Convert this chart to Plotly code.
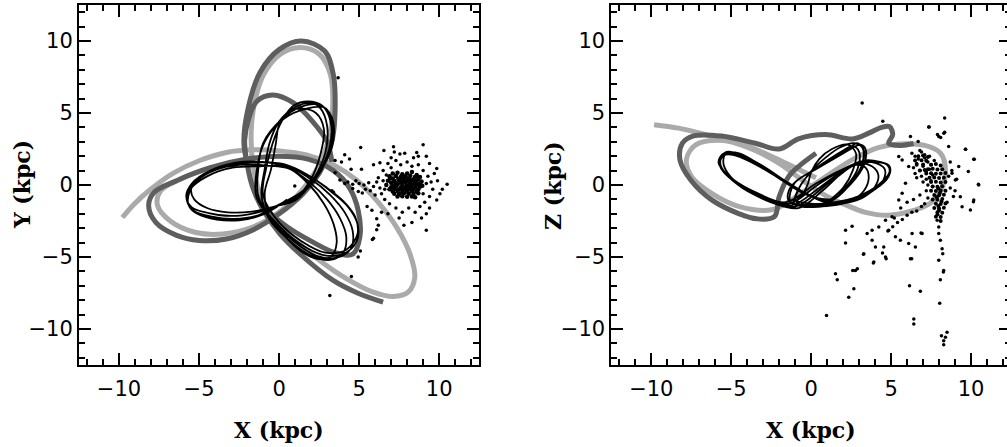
import plotly.graph_objects as go

# ---------------- data (kpc) ----------------
# light-gray orbit, X-Y projection
LG_XY_X = [-9.79,-9.12,-8.08,-6.63,-4.96,-3.29,-1.63,0.04,1.71,3.38,4.83,6.08,7.33,8.17,8.48,8.06,7.13,5.88,4.2,2.6,1.0,-0.3,-1.2,-1.6,-1.75,-1.6,-1.0,0.1,1.3,2.5,3.2,3.35,3.1,2.5,1.4,0.0,-1.6,-3.5,-5.2,-6.8,-7.6,-7.4,-6.2,-4.5]
LG_XY_Y = [-2.26,-1.40,-0.35,0.81,1.70,2.26,2.44,2.37,2.09,1.40,0.35,-1.05,-2.91,-4.77,-6.40,-7.44,-7.74,-7.44,-6.5,-5.3,-3.8,-2.3,-0.6,1.2,3.2,5.3,7.6,9.1,9.55,9.1,7.7,5.4,3.2,1.4,-0.4,-1.9,-2.9,-3.4,-3.3,-2.5,-1.4,-0.4,0.4,1.1]

# dark-gray orbit, X-Y projection
DG_XY_X = [3.3,3.0,2.1,0.9,-0.4,-1.4,-1.9,-2.15,-2.0,-1.6,-0.8,0.5,2.0,3.5,4.6,5.05,4.95,4.4,3.4,1.8,0.0,-2.0,-4.3,-6.4,-7.8,-8.15,-7.7,-6.4,-5.0,-3.3,-1.6,0.0,1.5,2.5,3.0,3.35,3.5,3.4,2.85,1.4,0.0,-1.2,-1.94,-2.2,-2.0,-1.6,-1.0,0.04,1.29,3.38,4.9,6.5]
DG_XY_Y = [1.6,3.0,4.4,5.7,6.25,5.8,4.6,3.1,1.5,-0.3,-1.7,-2.9,-3.9,-4.7,-4.8,-3.6,-1.8,-0.2,1.0,1.8,2.0,1.8,1.2,0.3,-0.5,-1.4,-2.6,-3.5,-3.85,-3.75,-3.1,-2.0,-0.6,0.8,2.0,3.3,5.2,7.6,9.3,10.0,9.4,7.8,5.3,3.0,1.5,-0.3,-1.74,-3.37,-4.77,-6.63,-7.5,-8.14]

# black orbit (thin): shared X, with Y (left panel) and Z (right panel)
BK_X = [1.0,2.0,2.6,2.8,2.3,1.3,0.5,0.0,-0.2,-0.5,-0.9,
        -0.6,0.4,1.5,2.5,3.3,3.6,3.4,2.8,1.9,0.7,
        -0.8,-2.5,-4.1,-5.2,-5.5,-5.3,-4.5,-3.2,-1.7,-0.3,
        1.1,2.2,2.9,3.0,2.6,2.0,1.0,0.0,-0.6,-0.9,-1.1,
        -0.6,0.6,1.9,3.2,4.0,4.2,3.8,3.0,1.9,0.6,
        -1.0,-2.7,-4.3,-5.45,-5.8,-5.45,-4.4,-3.0,-1.5,-0.1,
        1.2,2.4,3.15,3.3,2.9,2.4,1.3,0.1,-1.0,-1.3,-1.3,
        -0.4,0.9,2.3,3.6,4.5,4.6,4.1,3.2,2.0,0.5,
        -1.2,-2.9,-4.5,-5.55,-5.75,-5.3,-4.2,-2.8,-1.3,0.0,
        1.3,2.5,3.3,3.4,3.1,2.8,1.7,0.3,-0.9,-1.4,-1.4,
        -0.2,1.2,2.7,4.0,4.85,4.9,4.3,3.3,2.0,0.4,
        -1.4,-3.1,-4.7,-5.6,-5.65,-5.1,-3.9,-2.5,-1.0,0.3,
        1.5,2.6,3.2,3.2,2.7,1.8,0.9,0.2,-0.4,-0.8,-1.0,
        0.0,1.4,2.9,4.2,4.9,4.75,4.0,3.0,1.8,0.3,
        -1.6,-3.3,-4.9,-5.7,-5.55,-4.9,-3.6,-2.2,-0.8,0.5]
BK_Y = [-1.1,0.4,2.2,3.9,5.0,5.3,5.0,4.2,2.9,1.1,-0.6,
        -2.2,-3.6,-4.7,-5.15,-4.9,-4.0,-2.7,-1.3,0.0,1.1,
        1.35,1.4,1.0,0.3,-0.35,-1.0,-1.6,-1.9,-1.85,-1.5,
        -1.0,0.5,2.3,4.1,5.3,5.7,5.4,4.4,2.9,1.1,-0.7,
        -2.4,-3.8,-4.85,-5.2,-4.7,-3.6,-2.3,-1.0,0.2,1.2,
        1.6,1.55,1.0,0.1,-0.8,-1.55,-1.95,-2.15,-1.95,-1.45,
        -0.8,0.6,2.4,4.2,5.3,5.6,5.4,4.5,2.9,1.1,-0.8,
        -2.5,-3.9,-4.9,-5.05,-4.4,-3.2,-1.9,-0.7,0.4,1.3,
        1.3,1.2,0.6,-0.3,-1.1,-1.8,-2.2,-2.35,-2.1,-1.35,
        -0.6,0.9,2.6,4.3,5.1,5.4,5.3,4.6,3.0,1.0,-0.9,
        -2.6,-4.0,-4.85,-4.8,-3.9,-2.7,-1.5,-0.5,0.55,1.4,
        1.6,1.4,0.7,-0.5,-1.4,-2.0,-2.4,-2.45,-2.05,-1.2,
        -0.4,1.1,2.8,4.5,5.5,5.8,5.5,4.5,2.9,1.2,-0.7,
        -2.6,-3.9,-4.7,-4.5,-3.4,-2.2,-1.1,-0.2,0.7,1.45,
        1.55,1.3,0.5,-0.7,-1.6,-2.1,-2.4,-2.35,-1.95,-1.0]
BK_Z = [-1.2,-0.2,1.0,2.2,2.8,2.5,1.8,0.9,0.1,-0.6,-1.1,
        -1.4,-1.5,-1.4,-1.1,-0.4,0.5,1.2,1.4,0.8,-0.4,
        -1.6,-1.2,-0.3,0.8,1.6,2.2,2.2,1.4,0.3,-0.6,
        -1.2,-0.1,1.1,2.3,2.7,2.4,1.7,0.9,0.1,-0.6,-1.2,
        -1.5,-1.5,-1.3,-0.9,-0.1,0.7,1.3,1.5,0.9,-0.3,
        -1.5,-1.05,-0.2,0.9,1.6,2.2,2.1,1.3,0.2,-0.7,
        -1.1,0.0,1.3,2.4,2.9,2.6,1.8,1.0,0.2,-0.5,-1.2,
        -1.5,-1.4,-1.2,-0.6,0.3,1.1,1.5,1.6,1.0,-0.2,
        -1.4,-0.9,0.0,1.0,1.7,2.3,2.0,1.1,0.0,-0.8,
        -1.0,0.1,1.4,2.5,2.8,2.7,2.0,1.1,0.3,-0.4,-1.1,
        -1.4,-1.3,-1.0,-0.3,0.6,1.3,1.6,1.7,1.1,0.0,
        -1.3,-0.8,0.2,1.2,1.8,2.2,1.8,0.9,-0.2,-0.9,
        -0.9,0.3,1.5,2.6,2.9,2.6,1.9,1.2,0.4,-0.3,-1.0,
        -1.3,-1.2,-0.8,0.0,0.9,1.4,1.6,1.5,1.0,0.1,
        -1.2,-0.6,0.4,1.3,2.0,2.1,1.5,0.6,-0.4,-1.0]

# light-gray orbit, X-Z projection
LG_XZ_X = [-9.83,-8.3,-6.6,-5.0,-3.5,-2.0,-0.5,1.0,2.2,3.4,4.85,6.3,7.4,8.1,8.4,8.1,7.1,5.5,4.2,2.8,1.2,-0.4,-2.4,-4.5,-6.2,-7.5,-7.8,-7.2,-5.8,-4.0,-2.5,-1.0,0.3]
LG_XZ_Z = [4.19,3.95,3.5,3.0,2.4,1.5,0.3,-0.8,-1.4,-1.9,-2.1,-1.8,-1.3,-0.4,1.0,2.2,2.75,2.85,2.6,1.9,0.8,-0.4,-1.7,-1.5,-0.6,0.6,1.8,2.8,3.1,2.7,2.0,1.2,0.5]

# dark-gray orbit, X-Z projection
DG_XZ_X = [0.3,-0.77,-1.4,-2.0,-2.3,-3.4,-4.5,-6.2,-7.5,-8.2,-8.06,-7.4,-5.6,-3.5,-2.0,-0.8,0.9,2.6,3.6,4.4,4.9,5.1,4.85,5.6,6.4]
DG_XZ_Z = [2.2,1.3,0.6,-0.8,-2.2,-2.35,-2.0,-1.05,0.3,1.7,2.9,3.4,3.4,2.9,2.5,3.2,3.5,3.2,3.6,4.0,4.05,3.5,2.9,2.75,2.88]

# stars, X-Y projection (halo + tail)
ST_XY_X = [3.69,3.17,4.52,4.94,5.08,5.83,6.1,6.2,6.1,5.9,6.4,5.5,5.8,7.8,9.2,9.4,9.85,10.05,10.5,9.85,9.4,9.2,8.7,8.6,9.0,7.15,7.55,7.85,6.55,6.3,5.9,5.1,5.15,4.5,4.4,4.1,3.9,3.5,3.5,3.8,4.1,4.6,4.95,3.3,0.98,3.4,
           4.3,4.6,5.0,5.3,5.6,5.9,6.1,5.4,5.7,6.3,4.8,5.2,6.0,6.2,6.5,6.6,
           6.5,6.8,7.0,7.3,7.6,8.0,8.3,8.7,9.0,9.3,9.5,9.6,9.4,9.1,8.8,8.5,8.1,7.7,7.3,6.9,6.6,6.4,6.7,7.0,8.9,9.2,7.5,8.3,6.8,9.7,9.9,10.2,8.4,7.2,6.9,9.0,9.2]
ST_XY_Y = [7.44,-7.67,-6.35,-5.0,-4.58,-3.79,-2.35,-2.8,-3.1,-3.7,-1.9,-1.5,-1.75,-2.8,-3.15,-1.6,-1.05,-0.6,0.05,1.15,1.5,2.0,2.0,2.25,2.8,2.65,2.15,2.2,2.4,1.55,1.4,2.6,1.1,1.1,1.8,2.1,1.6,1.7,0.85,0.35,0.1,-0.25,-0.45,-0.4,-0.07,-0.5,
           0.2,0.05,0.1,0.0,0.15,-0.1,0.2,-0.3,-0.4,-0.2,0.3,-0.55,-0.7,0.5,0.3,-0.3,
           1.0,1.5,1.9,1.7,1.4,1.6,1.3,1.4,1.0,0.6,0.2,-0.3,-0.8,-1.2,-1.5,-1.9,-1.6,-1.9,-1.6,-1.3,-1.0,-0.6,0.7,1.2,-2.3,-2.0,-2.3,-2.6,-2.0,0.8,0.3,-0.3,1.9,2.3,0.4,-0.6,0.1]
# stars, X-Y projection (dense core)
CORE_XY_X = [7.1,7.4,7.7,8.0,8.3,8.6,
             6.9,7.3,7.6,7.9,8.2,8.5,8.8,
             7.1,7.45,7.8,8.1,8.4,8.7,
             6.8,7.2,7.5,7.8,8.05,8.3,8.6,8.9,
             7.0,7.3,7.6,7.9,8.2,8.5,8.8,
             6.7,7.1,7.4,7.7,8.0,8.3,8.6,8.95,
             7.0,7.3,7.6,7.9,8.2,8.5,8.8,
             6.9,7.2,7.5,7.8,8.1,8.4,8.7,
             7.1,7.4,7.7,8.0,8.3,8.6,
             7.2,7.5,7.8,8.1,8.4,8.7,
             7.4,7.7,8.0,8.3,8.5,
             7.55,7.85,8.15,7.65,7.95,8.25,7.35,8.45]
CORE_XY_Y = [0.8,0.85,0.75,0.8,0.9,0.7,
             0.6,0.62,0.55,0.6,0.65,0.58,0.55,
             0.45,0.42,0.48,0.45,0.4,0.42,
             0.3,0.28,0.32,0.3,0.27,0.33,0.3,0.25,
             0.15,0.12,0.18,0.15,0.12,0.17,0.1,
             0.0,-0.02,0.03,0.0,-0.03,0.02,0.0,-0.05,
             -0.15,-0.12,-0.18,-0.15,-0.13,-0.17,-0.12,
             -0.3,-0.28,-0.32,-0.3,-0.27,-0.33,-0.3,
             -0.45,-0.42,-0.48,-0.45,-0.43,-0.47,
             -0.6,-0.62,-0.58,-0.6,-0.63,-0.57,
             -0.8,-0.78,-0.82,-0.8,-0.85,
             0.35,0.38,0.36,-0.22,-0.24,-0.2,0.05,0.08]

# stars, X-Z projection (halo + tail)
ST_XZ_X = [3.19,4.48,8.35,7.35,8.35,7.98,6.21,6.69,8.6,9.65,10.17,10.48,10.17,9.96,9.44,9.33,9.02,9.23,8.81,5.48,5.69,6.1,5.9,5.69,5.48,5.06,4.65,4.23,3.81,3.5,3.81,4.02,3.29,3.92,4.54,4.65,4.85,5.27,5.58,6.1,6.31,6.94,6.52,6.21,2.15,2.15,2.56,2.77,2.67,2.35,1.52,1.63,0.96,6.15,6.83,6.42,6.42,8.08,8.04,8.15,8.5,8.29,8.29,8.4,8.29,7.98,8.19,8.23,8.08,7.98,7.98,7.88,2.6,2.89,3.27,3.89,4.69,4.46,6.29,6.87,8.27,7.38,7.9,8.1,8.3,9.66,10.2,10.46,10.15,9.83,
           6.3,6.5,6.7,6.9,7.1,7.3,6.4,6.6,6.8,7.0,7.2,7.4,7.6,6.6,6.9,7.2,7.5,6.8,7.1,7.4,7.7,7.0,7.3,7.6,6.5,7.5,
           8.6,8.7,8.9,9.1,8.8,8.5,8.7,9.0,7.3,7.1,6.9,6.6,6.3,6.0,5.7,5.4,5.1,4.8,7.2,6.8,6.4,6.0,5.6,5.2]
ST_XZ_Z = [5.70,4.42,4.65,4.02,3.67,3.37,3.37,3.02,2.67,2.49,1.79,0.0,-1.05,-1.74,-1.51,-0.81,0.35,1.28,0.81,1.98,1.74,1.28,0.12,-0.58,-1.05,-2.21,-2.44,-2.91,-3.14,-3.37,-3.84,-4.3,-4.77,-5.35,-4.3,-5.0,-3.14,-3.6,-3.84,-4.07,-3.37,-3.37,-4.3,-5.12,-3.14,-4.02,-2.86,-5.93,-7.21,-7.79,-6.16,-6.58,-9.07,-7.0,-7.37,-9.3,-9.65,-6.58,-8.21,-10.47,-10.23,-10.81,-11.09,-10.58,-5.93,-5.23,-4.42,-4.77,-3.84,-3.37,-2.91,-2.44,-5.93,-5.81,-4.81,-5.42,-5.12,-4.72,-5.12,-3.33,-6.05,4.02,3.5,3.3,3.6,2.49,1.79,0.05,-1.16,0.93,
           2.2,2.0,1.8,2.3,1.9,1.6,1.2,1.5,1.0,1.3,0.9,1.1,0.7,0.5,0.6,0.4,0.3,2.4,2.1,2.0,1.7,0.2,0.0,-0.1,0.8,1.4,
           0.6,-0.2,-0.8,0.4,1.0,-1.2,1.6,-0.4,-0.9,-1.3,-1.5,-1.8,-1.9,-2.1,-2.4,-2.6,-2.9,-3.2,-0.4,-0.7,-1.0,-1.2,-1.6,-2.3]
# stars, X-Z projection (dense column)
CORE_XZ_X = [7.5,7.8,8.1,
             7.3,7.6,7.9,8.2,
             7.2,7.5,7.8,8.1,8.4,
             7.4,7.7,8.0,8.3,
             7.5,7.8,8.1,8.4,
             7.6,7.9,8.2,
             7.5,7.8,8.1,8.4,
             7.7,8.0,8.3,
             7.6,7.9,8.2,
             7.8,8.1,8.4,
             7.7,8.0,8.3,
             7.9,8.2,
             7.8,8.1,
             6.7,7.0,7.3,6.5,6.9,7.2,6.6,7.0,6.8,7.1,
             7.95,8.05,7.85,8.15,7.95,8.0,7.9,8.1]
CORE_XZ_Z = [1.4,1.45,1.35,
             1.1,1.12,1.08,1.1,
             0.8,0.82,0.78,0.8,0.83,
             0.5,0.52,0.48,0.5,
             0.2,0.22,0.18,0.2,
             -0.1,-0.12,-0.08,
             -0.4,-0.42,-0.38,-0.4,
             -0.7,-0.72,-0.68,
             -1.0,-1.02,-0.98,
             -1.3,-1.32,-1.28,
             -1.6,-1.62,-1.58,
             -1.9,-1.92,
             -2.2,-2.22,
             2.0,2.05,1.95,1.7,1.72,1.68,1.4,1.42,1.0,1.05,
             -0.25,-0.55,-0.85,-1.15,-1.45,-1.75,-2.05,-2.5]

TICKS = [-10, -5, 0, 5, 10]
LG_COLOR = "#aaaaaa"
DG_COLOR = "#5e5e5e"

fig = go.Figure()

def orbit(x, y, color, width, xa, ya):
    fig.add_trace(go.Scatter(x=x, y=y, mode="lines", xaxis=xa, yaxis=ya,
                             line=dict(color=color, width=width, shape="spline", smoothing=1.0),
                             hoverinfo="skip", showlegend=False))

def stars(x, y, xa, ya, size):
    fig.add_trace(go.Scatter(x=x, y=y, mode="markers", xaxis=xa, yaxis=ya,
                             marker=dict(color="black", size=size, line=dict(width=0)),
                             hoverinfo="skip", showlegend=False))

# left panel
orbit(LG_XY_X, LG_XY_Y, LG_COLOR, 5, "x", "y")
orbit(DG_XY_X, DG_XY_Y, DG_COLOR, 5, "x", "y")
orbit(BK_X, BK_Y, "black", 1.8, "x", "y")
stars(ST_XY_X, ST_XY_Y, "x", "y", 3.5)
stars(CORE_XY_X, CORE_XY_Y, "x", "y", 4.5)
# right panel
orbit(LG_XZ_X, LG_XZ_Z, LG_COLOR, 5, "x2", "y2")
orbit(DG_XZ_X, DG_XZ_Z, DG_COLOR, 5, "x2", "y2")
orbit(BK_X, BK_Z, "black", 1.8, "x2", "y2")
stars(ST_XZ_X, ST_XZ_Z, "x2", "y2", 3.5)
stars(CORE_XZ_X, CORE_XZ_Z, "x2", "y2", 4.0)

TICK_FONT = dict(family="DejaVu Sans", size=21, color="black")
TITLE_FONT = dict(family="DejaVu Serif", size=22, color="black")
W = 1013
L = 79
PW = W - L          # plot-area width in px
PH = 360            # plot-area height in px

def axis_common():
    return dict(range=[-12.5, 12.5], tickmode="array", tickvals=TICKS,
                ticks="inside", ticklen=12, tickwidth=2, tickcolor="black",
                minor=dict(dtick=1, tick0=0, ticks="inside", ticklen=6, tickwidth=2, tickcolor="black"),
                showline=True, linewidth=2, linecolor="black", mirror="ticks",
                showgrid=False, zeroline=False, tickfont=TICK_FONT, fixedrange=True)

d1 = [0.0, (480 - L) / PW]
d2 = [(612.5 - L) / PW, 1.0]

fig.update_layout(
    width=W, height=447, margin=dict(l=L, r=0, t=5, b=82),
    paper_bgcolor="white", plot_bgcolor="white",
    xaxis=dict(domain=d1, anchor="y", ticklabelstandoff=4, **axis_common()),
    yaxis=dict(domain=[0, 1], anchor="x", **axis_common()),
    xaxis2=dict(domain=d2, anchor="y2", ticklabelstandoff=4, **axis_common()),
    yaxis2=dict(domain=[0, 1], anchor="x2", **axis_common()),
)

def label(text, px, py, angle=0):
    fig.add_annotation(text="<b>%s</b>" % text, xref="paper", yref="paper",
                       x=(px - L) / PW, y=(365 - py) / PH, xanchor="center", yanchor="middle",
                       textangle=angle, showarrow=False, font=TITLE_FONT)

label("X (kpc)", 279.5, 430)
label("X (kpc)", 812.7, 430)
label("Y (kpc)", 22, 185, -90)
label("Z (kpc)", 554, 185, -90)

fig.write_html("out.html", post_script="document.documentElement.style.overflow='hidden';document.body.style.overflow='hidden';document.body.style.margin='0';")
